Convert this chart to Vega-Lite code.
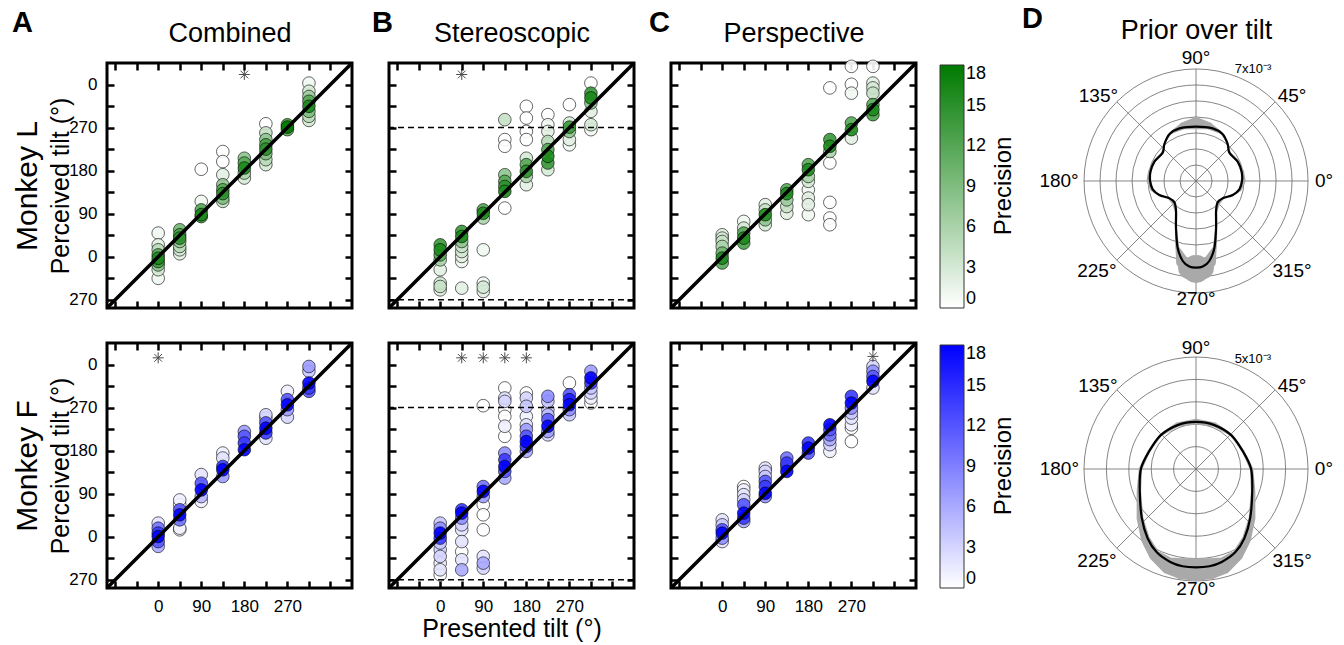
{
"$schema":"https://vega.github.io/schema/vega-lite/v6.json",
"background":"white",
"padding":{"left":10,"top":5,"right":0,"bottom":0},
"config":{
 "font":"Liberation Sans",
 "view":{"stroke":"black","strokeWidth":3},
 "axis":{"domain":false,"grid":false,"tickColor":"black","tickWidth":2.5,"tickSize":-7,"labelFontSize":17,"labelColor":"black","labelPadding":17,"labelOverlap":false,"labelFlush":false,"titleFontSize":25,"titleFontWeight":"normal","titleColor":"black","labelFont":"Liberation Sans","titleFont":"Liberation Sans"},
 "title":{"fontSize":29,"fontWeight":"bold","anchor":"start","frame":"group","font":"Liberation Sans","color":"black"},
 "legend":{"orient":"right","offset":20,"gradientLength":243,"gradientThickness":24,"labelFontSize":18,"labelColor":"black","labelOffset":5,"titleFontSize":24,"titleFontWeight":"normal","titleColor":"black","titleOrient":"right","titlePadding":6,"gradientStrokeColor":"#333","gradientStrokeWidth":1,"labelOverlap":false,"padding":2}
},
"datasets":{
 "LC":[{"x":0,"y":49.5,"p":1},{"x":0,"y":25,"p":2},{"x":0,"y":14.6,"p":5},{"x":0,"y":4,"p":12},{"x":0,"y":-3,"p":16},{"x":0,"y":-10,"p":14},{"x":0,"y":-17,"p":8},{"x":0,"y":-27,"p":3},{"x":0,"y":-45,"p":1},
  {"x":45,"y":56.5,"p":10},{"x":45,"y":46,"p":13},{"x":45,"y":39,"p":15},{"x":45,"y":32,"p":8},{"x":45,"y":21.6,"p":5},{"x":45,"y":14.6,"p":3},{"x":45,"y":6.3,"p":2},
  {"x":90,"y":183,"p":0},{"x":90,"y":115.8,"p":1},{"x":90,"y":98,"p":12},{"x":90,"y":88,"p":16},{"x":90,"y":84,"p":14},
  {"x":135,"y":220,"p":0},{"x":135,"y":199,"p":0},{"x":135,"y":171.5,"p":2},{"x":135,"y":150.6,"p":8},{"x":135,"y":140,"p":12},{"x":135,"y":132,"p":15},{"x":135,"y":122.7,"p":9},{"x":135,"y":115.8,"p":4},
  {"x":180,"y":206,"p":8},{"x":180,"y":196,"p":12},{"x":180,"y":185.5,"p":16},{"x":180,"y":175,"p":6},{"x":180,"y":164.6,"p":3},
  {"x":225,"y":278,"p":0},{"x":225,"y":259,"p":4},{"x":225,"y":245,"p":8},{"x":225,"y":234,"p":13},{"x":225,"y":225,"p":15},{"x":225,"y":215.5,"p":9},{"x":225,"y":203,"p":5},{"x":225,"y":192.5,"p":3},
  {"x":270,"y":276,"p":14},{"x":270,"y":271,"p":18},{"x":270,"y":265.7,"p":12},
  {"x":315,"y":363,"p":1},{"x":315,"y":346,"p":3},{"x":315,"y":335,"p":7},{"x":315,"y":325,"p":12},{"x":315,"y":314.5,"p":16},{"x":315,"y":304,"p":9},{"x":315,"y":293.6,"p":5},{"x":315,"y":285,"p":3}],
 "LS":[{"x":0,"y":25,"p":14},{"x":0,"y":14.6,"p":16},{"x":0,"y":4,"p":12},{"x":0,"y":-6.3,"p":6},{"x":0,"y":-27,"p":2},{"x":0,"y":-55,"p":3},{"x":0,"y":-62,"p":4},{"x":0,"y":-69,"p":2},
  {"x":45,"y":53,"p":14},{"x":45,"y":42.5,"p":16},{"x":45,"y":32,"p":8},{"x":45,"y":21.6,"p":4},{"x":45,"y":11,"p":3},{"x":45,"y":0.7,"p":2},{"x":45,"y":-9.8,"p":1},{"x":45,"y":-65.5,"p":2},
  {"x":90,"y":98,"p":12},{"x":90,"y":91,"p":16},{"x":90,"y":81,"p":6},{"x":90,"y":14.6,"p":1},{"x":90,"y":-55,"p":1},{"x":90,"y":-63.5,"p":3},{"x":90,"y":-72.5,"p":2},
  {"x":135,"y":286.6,"p":4},{"x":135,"y":245,"p":0},{"x":135,"y":231,"p":0},{"x":135,"y":171.5,"p":8},{"x":135,"y":157.6,"p":12},{"x":135,"y":147,"p":15},{"x":135,"y":136.7,"p":16},{"x":135,"y":101.8,"p":0},
  {"x":180,"y":314.5,"p":0},{"x":180,"y":290,"p":0},{"x":180,"y":262,"p":0},{"x":180,"y":245,"p":0},{"x":180,"y":206,"p":3},{"x":180,"y":192.5,"p":12},{"x":180,"y":178.5,"p":15},{"x":180,"y":168,"p":6},{"x":180,"y":150.6,"p":2},
  {"x":225,"y":297,"p":0},{"x":225,"y":276,"p":1},{"x":225,"y":262,"p":2},{"x":225,"y":241,"p":5},{"x":225,"y":224,"p":12},{"x":225,"y":210,"p":16},{"x":225,"y":196,"p":14},{"x":225,"y":182,"p":3},
  {"x":270,"y":318,"p":0},{"x":270,"y":279.6,"p":3},{"x":270,"y":271,"p":14},{"x":270,"y":262,"p":8},{"x":270,"y":245,"p":2},{"x":270,"y":234,"p":1},
  {"x":315,"y":363,"p":0},{"x":315,"y":342,"p":14},{"x":315,"y":332,"p":16},{"x":315,"y":321.5,"p":8},{"x":315,"y":304,"p":2},{"x":315,"y":276,"p":3},{"x":315,"y":265.7,"p":1}],
 "LP":[{"x":0,"y":46,"p":2},{"x":0,"y":39,"p":3},{"x":0,"y":32,"p":4},{"x":0,"y":21.6,"p":6},{"x":0,"y":7.7,"p":10},{"x":0,"y":-2.8,"p":16},{"x":0,"y":-13,"p":12},
  {"x":45,"y":74,"p":1},{"x":45,"y":60,"p":3},{"x":45,"y":49.5,"p":12},{"x":45,"y":39,"p":16},{"x":45,"y":28.6,"p":13},
  {"x":90,"y":109,"p":2},{"x":90,"y":98,"p":4},{"x":90,"y":88,"p":16},{"x":90,"y":77.4,"p":8},{"x":90,"y":67,"p":3},
  {"x":135,"y":140,"p":12},{"x":135,"y":132,"p":16},{"x":135,"y":119,"p":7},{"x":135,"y":105,"p":4},{"x":135,"y":91,"p":2},
  {"x":180,"y":192.5,"p":12},{"x":180,"y":182,"p":16},{"x":180,"y":168,"p":6},{"x":180,"y":157.6,"p":3},{"x":180,"y":140,"p":1},{"x":180,"y":122.7,"p":2},{"x":180,"y":109,"p":2},{"x":180,"y":88,"p":1},
  {"x":225,"y":353,"p":0},{"x":225,"y":245,"p":14},{"x":225,"y":231,"p":16},{"x":225,"y":220,"p":6},{"x":225,"y":196,"p":0},{"x":225,"y":113.7,"p":0},{"x":225,"y":81,"p":0},{"x":225,"y":67,"p":0},
  {"x":270,"y":398,"p":0},{"x":270,"y":360.5,"p":0},{"x":270,"y":342,"p":1},{"x":270,"y":279.6,"p":12},{"x":270,"y":265.7,"p":16},{"x":270,"y":248,"p":2},
  {"x":315,"y":398,"p":0},{"x":315,"y":363,"p":2},{"x":315,"y":353,"p":3},{"x":315,"y":342,"p":4},{"x":315,"y":318,"p":12},{"x":315,"y":307.5,"p":16},{"x":315,"y":297,"p":13}],
 "FC":[{"x":0,"y":28.6,"p":2},{"x":0,"y":18,"p":10},{"x":0,"y":7.7,"p":14},{"x":0,"y":0.7,"p":18},{"x":0,"y":-10,"p":12},{"x":0,"y":-20,"p":6},
  {"x":45,"y":77,"p":1},{"x":45,"y":67,"p":0},{"x":45,"y":56.5,"p":12},{"x":45,"y":46,"p":18},{"x":45,"y":35.5,"p":10},{"x":45,"y":18,"p":1},{"x":45,"y":14.6,"p":0},
  {"x":90,"y":130,"p":2},{"x":90,"y":112,"p":12},{"x":90,"y":98,"p":18},{"x":90,"y":84,"p":5},{"x":90,"y":74,"p":1},
  {"x":135,"y":175,"p":1},{"x":135,"y":164.6,"p":2},{"x":135,"y":147,"p":14},{"x":135,"y":140,"p":18},{"x":135,"y":126,"p":7},
  {"x":180,"y":220,"p":7},{"x":180,"y":210,"p":12},{"x":180,"y":196,"p":14},{"x":180,"y":182,"p":18},
  {"x":225,"y":255,"p":3},{"x":225,"y":248,"p":2},{"x":225,"y":238,"p":12},{"x":225,"y":227,"p":18},{"x":225,"y":217,"p":14},{"x":225,"y":206,"p":2},
  {"x":270,"y":304,"p":1},{"x":270,"y":286.6,"p":12},{"x":270,"y":276,"p":18},{"x":270,"y":265.7,"p":7},{"x":270,"y":250,"p":3},
  {"x":315,"y":356,"p":7},{"x":315,"y":346,"p":4},{"x":315,"y":321.5,"p":18},{"x":315,"y":311,"p":14},{"x":315,"y":304,"p":12}],
 "FS":[{"x":0,"y":28.6,"p":4},{"x":0,"y":18,"p":8},{"x":0,"y":7.7,"p":18},{"x":0,"y":-2.8,"p":14},{"x":0,"y":-13,"p":4},{"x":0,"y":-27,"p":3},{"x":0,"y":-41,"p":3},{"x":0,"y":-55,"p":1},{"x":0,"y":-69,"p":2},{"x":0,"y":-79.5,"p":0},
  {"x":45,"y":56.5,"p":14},{"x":45,"y":49.5,"p":18},{"x":45,"y":39,"p":8},{"x":45,"y":25,"p":3},{"x":45,"y":14.6,"p":2},{"x":45,"y":-10,"p":2},{"x":45,"y":-31,"p":0},{"x":45,"y":-48,"p":2},{"x":45,"y":-69,"p":6},
  {"x":90,"y":274,"p":0},{"x":90,"y":105,"p":10},{"x":90,"y":95,"p":18},{"x":90,"y":84,"p":7},{"x":90,"y":67,"p":0},{"x":90,"y":46,"p":0},{"x":90,"y":14.6,"p":0},{"x":90,"y":-41,"p":2},{"x":90,"y":-55,"p":6},{"x":90,"y":-65.5,"p":3},
  {"x":135,"y":311,"p":0},{"x":135,"y":290,"p":2},{"x":135,"y":283,"p":3},{"x":135,"y":265.7,"p":0},{"x":135,"y":251.7,"p":0},{"x":135,"y":231,"p":1},{"x":135,"y":210,"p":0},{"x":135,"y":175,"p":8},{"x":135,"y":161,"p":14},{"x":135,"y":147,"p":18},{"x":135,"y":136.7,"p":12},{"x":135,"y":122.7,"p":6},
  {"x":180,"y":300.6,"p":0},{"x":180,"y":290,"p":3},{"x":180,"y":272.7,"p":4},{"x":180,"y":251.7,"p":1},{"x":180,"y":234,"p":2},{"x":180,"y":224,"p":7},{"x":180,"y":210,"p":12},{"x":180,"y":199,"p":18},{"x":180,"y":189,"p":14},{"x":180,"y":178.5,"p":6},
  {"x":225,"y":293.6,"p":8},{"x":225,"y":283,"p":4},{"x":225,"y":265.7,"p":3},{"x":225,"y":255,"p":5},{"x":225,"y":245,"p":12},{"x":225,"y":231,"p":18},{"x":225,"y":220,"p":7},{"x":225,"y":213,"p":3},
  {"x":270,"y":321.5,"p":0},{"x":270,"y":297,"p":12},{"x":270,"y":286.6,"p":16},{"x":270,"y":276,"p":18},{"x":270,"y":265.7,"p":8},{"x":270,"y":255,"p":4},
  {"x":315,"y":346,"p":7},{"x":315,"y":332,"p":18},{"x":315,"y":321.5,"p":14},{"x":315,"y":311,"p":4},{"x":315,"y":300.6,"p":3},{"x":315,"y":290,"p":1},{"x":315,"y":279.6,"p":0}],
 "FP":[{"x":0,"y":35.5,"p":2},{"x":0,"y":25,"p":4},{"x":0,"y":14.6,"p":12},{"x":0,"y":7.7,"p":18},{"x":0,"y":-2.8,"p":8},{"x":0,"y":-10,"p":2},
  {"x":45,"y":105,"p":0},{"x":45,"y":98,"p":1},{"x":45,"y":88,"p":2},{"x":45,"y":77.4,"p":3},{"x":45,"y":67,"p":12},{"x":45,"y":49.5,"p":18},{"x":45,"y":39,"p":14},{"x":45,"y":32,"p":6},
  {"x":90,"y":143.7,"p":2},{"x":90,"y":136.7,"p":3},{"x":90,"y":126,"p":4},{"x":90,"y":115.8,"p":12},{"x":90,"y":105,"p":14},{"x":90,"y":91,"p":18},{"x":90,"y":84,"p":8},
  {"x":135,"y":164.6,"p":10},{"x":135,"y":154,"p":14},{"x":135,"y":147,"p":12},{"x":135,"y":136.7,"p":18},
  {"x":180,"y":196,"p":14},{"x":180,"y":185.5,"p":18},{"x":180,"y":175,"p":12},
  {"x":225,"y":234,"p":18},{"x":225,"y":224,"p":12},{"x":225,"y":213,"p":10},{"x":225,"y":203,"p":6},{"x":225,"y":192.5,"p":3},{"x":225,"y":178.5,"p":1},
  {"x":270,"y":293.6,"p":14},{"x":270,"y":279.6,"p":18},{"x":270,"y":269,"p":8},{"x":270,"y":258.7,"p":4},{"x":270,"y":248,"p":2},{"x":270,"y":234,"p":1},{"x":270,"y":227,"p":0},{"x":270,"y":199,"p":0},
  {"x":315,"y":356,"p":3},{"x":315,"y":346,"p":8},{"x":315,"y":335,"p":12},{"x":315,"y":325,"p":18},{"x":315,"y":311,"p":2}],
 "PLb":[{"i":0,"x":0,"y":3.4},{"i":1,"x":1.04,"y":3.29},{"i":2,"x":1.67,"y":2.92},{"i":3,"x":1.98,"y":2.29},{"i":4,"x":2.08,"y":1.77},{"i":5,"x":2.6,"y":1.21},{"i":6,"x":2.85,"y":0.58},{"i":7,"x":2.875,"y":0},{"i":8,"x":2.71,"y":-0.52},{"i":9,"x":2.29,"y":-0.875},{"i":10,"x":1.67,"y":-1.08},{"i":11,"x":1.35,"y":-1.35},{"i":12,"x":1.25,"y":-1.875},{"i":13,"x":1.25,"y":-2.92},{"i":14,"x":1.15,"y":-4.17},{"i":15,"x":0.83,"y":-5.0},{"i":16,"x":0.42,"y":-5.35},{"i":17,"x":0,"y":-5.42},{"i":18,"x":-0.42,"y":-5.35},{"i":19,"x":-0.83,"y":-5.0},{"i":20,"x":-1.15,"y":-4.17},{"i":21,"x":-1.25,"y":-2.92},{"i":22,"x":-1.25,"y":-1.875},{"i":23,"x":-1.35,"y":-1.35},{"i":24,"x":-1.67,"y":-1.08},{"i":25,"x":-2.29,"y":-0.875},{"i":26,"x":-2.71,"y":-0.52},{"i":27,"x":-2.875,"y":0},{"i":28,"x":-2.85,"y":0.58},{"i":29,"x":-2.6,"y":1.21},{"i":30,"x":-2.08,"y":1.77},{"i":31,"x":-1.98,"y":2.29},{"i":32,"x":-1.67,"y":2.92},{"i":33,"x":-1.04,"y":3.29}],
 "PLg":[{"i":0,"x":0,"y":3.62,"w":0.75},{"i":1,"x":0.8,"y":3.45,"w":0.45},{"i":2,"x":1.6,"y":3.0,"w":0.15},{"i":3,"x":2.0,"y":2.3,"w":0.1},{"i":4,"x":2.12,"y":1.77,"w":0.1},{"i":5,"x":2.62,"y":1.22,"w":0.15},{"i":6,"x":2.9,"y":0.58,"w":0.2},{"i":7,"x":2.95,"y":0,"w":0.3},{"i":8,"x":2.75,"y":-0.55,"w":0.2},{"i":9,"x":2.3,"y":-0.9,"w":0.1},{"i":10,"x":1.68,"y":-1.1,"w":0.1},{"i":11,"x":1.37,"y":-1.4,"w":0.25},{"i":12,"x":1.27,"y":-1.9,"w":0.12},{"i":13,"x":1.27,"y":-2.92,"w":0.12},{"i":14,"x":1.17,"y":-4.17,"w":0.25},{"i":15,"x":0.85,"y":-5.05,"w":0.8},{"i":16,"x":0.42,"y":-5.45,"w":1.4},{"i":17,"x":0,"y":-5.5,"w":1.75},{"i":18,"x":-0.42,"y":-5.45,"w":1.4},{"i":19,"x":-0.85,"y":-5.05,"w":0.8},{"i":20,"x":-1.17,"y":-4.17,"w":0.25},{"i":21,"x":-1.27,"y":-2.92,"w":0.12},{"i":22,"x":-1.27,"y":-1.9,"w":0.12},{"i":23,"x":-1.37,"y":-1.4,"w":0.25},{"i":24,"x":-1.68,"y":-1.1,"w":0.1},{"i":25,"x":-2.3,"y":-0.9,"w":0.1},{"i":26,"x":-2.75,"y":-0.55,"w":0.2},{"i":27,"x":-2.95,"y":0,"w":0.3},{"i":28,"x":-2.9,"y":0.58,"w":0.2},{"i":29,"x":-2.62,"y":1.22,"w":0.15},{"i":30,"x":-2.12,"y":1.77,"w":0.1},{"i":31,"x":-2.0,"y":2.3,"w":0.1},{"i":32,"x":-1.6,"y":3.0,"w":0.15},{"i":33,"x":-0.8,"y":3.45,"w":0.45},{"i":34,"x":0,"y":3.62,"w":0.75}],
 "PFb":[{"i":0,"x":0,"y":2.1},{"i":1,"x":0.82,"y":1.96},{"i":2,"x":1.57,"y":1.51},{"i":3,"x":2.09,"y":0.79},{"i":4,"x":2.46,"y":0},{"i":5,"x":2.51,"y":-1.0},{"i":6,"x":2.42,"y":-2.19},{"i":7,"x":2.16,"y":-3.09},{"i":8,"x":1.75,"y":-3.72},{"i":9,"x":1.15,"y":-4.15},{"i":10,"x":0.6,"y":-4.34},{"i":11,"x":0,"y":-4.39},{"i":12,"x":-0.6,"y":-4.34},{"i":13,"x":-1.15,"y":-4.15},{"i":14,"x":-1.75,"y":-3.72},{"i":15,"x":-2.16,"y":-3.09},{"i":16,"x":-2.42,"y":-2.19},{"i":17,"x":-2.51,"y":-1.0},{"i":18,"x":-2.46,"y":0},{"i":19,"x":-2.09,"y":0.79},{"i":20,"x":-1.57,"y":1.51},{"i":21,"x":-0.82,"y":1.96}],
 "PFg":[{"i":0,"x":0,"y":2.12,"w":0.25},{"i":1,"x":0.83,"y":1.98,"w":0.2},{"i":2,"x":1.58,"y":1.52,"w":0.12},{"i":3,"x":2.1,"y":0.8,"w":0.12},{"i":4,"x":2.48,"y":0,"w":0.15},{"i":5,"x":2.55,"y":-1.0,"w":0.2},{"i":6,"x":2.5,"y":-2.2,"w":0.3},{"i":7,"x":2.25,"y":-3.15,"w":0.4},{"i":8,"x":1.85,"y":-3.85,"w":0.5},{"i":9,"x":1.22,"y":-4.32,"w":0.75},{"i":10,"x":0.6,"y":-4.46,"w":0.95},{"i":11,"x":0,"y":-4.48,"w":1.0},{"i":12,"x":-0.6,"y":-4.46,"w":0.95},{"i":13,"x":-1.22,"y":-4.32,"w":0.75},{"i":14,"x":-1.85,"y":-3.85,"w":0.5},{"i":15,"x":-2.25,"y":-3.15,"w":0.4},{"i":16,"x":-2.5,"y":-2.2,"w":0.3},{"i":17,"x":-2.55,"y":-1.0,"w":0.2},{"i":18,"x":-2.48,"y":0,"w":0.15},{"i":19,"x":-2.1,"y":0.8,"w":0.12},{"i":20,"x":-1.58,"y":1.52,"w":0.12},{"i":21,"x":-0.83,"y":1.98,"w":0.2},{"i":22,"x":0,"y":2.12,"w":0.25}]
},
"columns":4,
"bounds":"flush",
"spacing":{"row":35,"column":37},
"resolve":{"scale":{"fill":"independent","size":"independent"},"legend":{"fill":"independent","size":"independent"}},
"concat":[
   {"width":245,"height":245,
    "title":{"text":"A","dx":-95,"dy":22},
    "layer":[
     {"data":{"name":"LC"},"mark":{"type":"point","shape":"circle","filled":true,"size":160,"stroke":"black","strokeWidth":0.7,"fillOpacity":0.9,"strokeOpacity":0.85},
      "encoding":{
       "x":{"field":"x","type":"quantitative","scale":{"domain":[-107,405],"nice":false,"zero":false},"axis":{"orient":"bottom","values":[-90,-45,0,45,90,135,180,225,270,315,360],"labels":false,"title":null}},
       "y":{"field":"y","type":"quantitative","scale":{"domain":[-107,405],"nice":false,"zero":false},"axis":{"orient":"left","values":[-90,-45,0,45,90,135,180,225,270,315,360],"labelExpr":"datum.value % 90 == 0 ? '' + ((datum.value + 360) % 360) : ''","title":"Perceived tilt (°)","titlePadding":-5}},
       "fill":{"field":"p","type":"quantitative","scale":{"domain":[0,18],"range":["#ffffff","#007a00"],"interpolate":"rgb"},"legend":null},
       "order":{"field":"p","type":"quantitative"}}},
     {"data":{"values":[{"x":-107,"y":-107},{"x":405,"y":405}]},"mark":{"type":"line","color":"black","strokeWidth":3.5},
      "encoding":{
       "x":{"field":"x","type":"quantitative","axis":{"orient":"top","values":[-90,-45,0,45,90,135,180,225,270,315,360],"labels":false,"title":"Combined","titleFontSize":27,"titlePadding":14}},
       "y":{"field":"y","type":"quantitative","axis":{"orient":"right","values":[-90,-45,0,45,90,135,180,225,270,315,360],"labels":false,"title":null}}}},
     {"data":{"values":[{"x":180,"y":381}]},"mark":{"type":"point","shape":"M-1,0L1,0M0,-1L0,1M-0.7,-0.7L0.7,0.7M-0.7,0.7L0.7,-0.7","size":120,"color":"black","strokeWidth":1,"filled":false},
      "encoding":{
       "x":{"field":"x","type":"quantitative","axis":null},
       "y":{"field":"y","type":"quantitative","axis":{"orient":"left","labels":false,"ticks":false,"title":"Monkey L","titleFontSize":30,"titlePadding":65}}}}
    ],
    "resolve":{"axis":{"x":"independent","y":"independent"}}},
   {"width":245,"height":245,
    "title":{"text":"B","dx":-17,"dy":22},
    "layer":[
     {"data":{"name":"LS"},"mark":{"type":"point","shape":"circle","filled":true,"size":160,"stroke":"black","strokeWidth":0.7,"fillOpacity":0.9,"strokeOpacity":0.85},
      "encoding":{
       "x":{"field":"x","type":"quantitative","scale":{"domain":[-107,405],"nice":false,"zero":false},"axis":{"orient":"bottom","values":[-90,-45,0,45,90,135,180,225,270,315,360],"labels":false,"title":null}},
       "y":{"field":"y","type":"quantitative","scale":{"domain":[-107,405],"nice":false,"zero":false},"axis":{"orient":"left","values":[-90,-45,0,45,90,135,180,225,270,315,360],"labels":false,"title":null}},
       "fill":{"field":"p","type":"quantitative","scale":{"domain":[0,18],"range":["#ffffff","#007a00"],"interpolate":"rgb"},"legend":null},
       "order":{"field":"p","type":"quantitative"}}},
     {"data":{"values":[{"x":-107,"y":-107},{"x":405,"y":405}]},"mark":{"type":"line","color":"black","strokeWidth":3.5},
      "encoding":{
       "x":{"field":"x","type":"quantitative","axis":{"orient":"top","values":[-90,-45,0,45,90,135,180,225,270,315,360],"labels":false,"title":"Stereoscopic","titleFontSize":27,"titlePadding":14}},
       "y":{"field":"y","type":"quantitative","axis":{"orient":"right","values":[-90,-45,0,45,90,135,180,225,270,315,360],"labels":false,"title":null}}}},
     {"data":{"values":[{"y":270},{"y":-90}]},"mark":{"type":"rule","color":"black","strokeWidth":1.5,"strokeDash":[6,4]},
      "encoding":{"y":{"field":"y","type":"quantitative","axis":null}}},
     {"data":{"values":[{"x":45,"y":381}]},"mark":{"type":"point","shape":"M-1,0L1,0M0,-1L0,1M-0.7,-0.7L0.7,0.7M-0.7,0.7L0.7,-0.7","size":120,"color":"black","strokeWidth":1,"filled":false},
      "encoding":{"x":{"field":"x","type":"quantitative","axis":null},"y":{"field":"y","type":"quantitative","axis":null}}}
    ],
    "resolve":{"axis":{"x":"independent","y":"independent"}}},
   {"width":245,"height":245,
    "title":{"text":"C","dx":-22,"dy":22},
    "layer":[
     {"data":{"name":"LP"},"mark":{"type":"point","shape":"circle","filled":true,"size":160,"stroke":"black","strokeWidth":0.7,"fillOpacity":0.9,"strokeOpacity":0.85},
      "encoding":{
       "x":{"field":"x","type":"quantitative","scale":{"domain":[-107,405],"nice":false,"zero":false},"axis":{"orient":"bottom","values":[-90,-45,0,45,90,135,180,225,270,315,360],"labels":false,"title":null}},
       "y":{"field":"y","type":"quantitative","scale":{"domain":[-107,405],"nice":false,"zero":false},"axis":{"orient":"left","values":[-90,-45,0,45,90,135,180,225,270,315,360],"labels":false,"title":null}},
       "fill":{"field":"p","type":"quantitative","scale":{"domain":[0,18],"range":["#ffffff","#007a00"],"interpolate":"rgb"},"legend":{"title":"Precision","values":[0,3,6,9,12,15,18],"encode":{"title":{"update":{"angle":{"value":-90},"baseline":{"value":"top"}}}}}},
       "order":{"field":"p","type":"quantitative"}}},
     {"data":{"values":[{"x":-107,"y":-107},{"x":405,"y":405}]},"mark":{"type":"line","color":"black","strokeWidth":3.5},
      "encoding":{
       "x":{"field":"x","type":"quantitative","axis":{"orient":"top","values":[-90,-45,0,45,90,135,180,225,270,315,360],"labels":false,"title":"Perspective","titleFontSize":27,"titlePadding":14}},
       "y":{"field":"y","type":"quantitative","axis":{"orient":"right","values":[-90,-45,0,45,90,135,180,225,270,315,360],"labels":false,"title":null}}}}
    ],
    "resolve":{"axis":{"x":"independent","y":"independent"}}},
  {"width":388,"height":245,"view":{"stroke":null},
   "title":{"text":"D","dx":69,"dy":22},
   "layer":[
    {"data":{"values":[{"x":-7,"y":0,"x2":7,"y2":0},{"x":0,"y":-7,"x2":0,"y2":7},{"x":-4.95,"y":-4.95,"x2":4.95,"y2":4.95},{"x":-4.95,"y":4.95,"x2":4.95,"y2":-4.95}]},
     "mark":{"type":"rule","color":"#666666","strokeWidth":0.8},
     "encoding":{
      "x":{"field":"x","type":"quantitative","scale":{"domain":[-15.19,9.06],"nice":false,"zero":false},"axis":{"orient":"top","domain":false,"ticks":false,"labels":false,"title":"Prior over tilt","titleFontSize":27,"titlePadding":19,"titleX":243}},
      "y":{"field":"y","type":"quantitative","scale":{"domain":[-7.94,7.375],"nice":false,"zero":false},"axis":null},
      "x2":{"field":"x2"},"y2":{"field":"y2"}}},
    {"data":{"values":[{"r":1,"x":0,"y":0},{"r":2,"x":0,"y":0},{"r":3,"x":0,"y":0},{"r":4,"x":0,"y":0},{"r":5,"x":0,"y":0},{"r":6,"x":0,"y":0},{"r":7,"x":0,"y":0}]},
     "mark":{"type":"point","shape":"circle","filled":false,"color":"#666666","strokeWidth":0.8,"opacity":1},
     "encoding":{
      "x":{"field":"x","type":"quantitative"},
      "y":{"field":"y","type":"quantitative","axis":null},
      "size":{"field":"r","type":"quantitative","scale":{"type":"pow","exponent":2,"domain":[0,7],"range":[0,50176]},"legend":null}}},
    {"data":{"name":"PLg"},"mark":{"type":"trail","color":"#a9a9a9"},
     "encoding":{
      "x":{"field":"x","type":"quantitative"},
      "y":{"field":"y","type":"quantitative","axis":null},
      "order":{"field":"i","type":"quantitative"},
      "size":{"field":"w","type":"quantitative","scale":{"domain":[0,1],"range":[0,16],"zero":true},"legend":null}}},
    {"data":{"name":"PLb"},"mark":{"type":"line","color":"black","strokeWidth":2.2,"interpolate":"cardinal-closed"},
     "encoding":{
      "x":{"field":"x","type":"quantitative"},
      "y":{"field":"y","type":"quantitative","axis":null},
      "order":{"field":"i","type":"quantitative"}}},
    {"data":{"values":[{"t":"0°","x":8.0,"y":0},{"t":"45°","x":6.0,"y":5.3},{"t":"90°","x":0,"y":7.69},{"t":"135°","x":-6.1,"y":5.3},{"t":"180°","x":-8.56,"y":0},{"t":"225°","x":-6.2,"y":-5.6},{"t":"270°","x":0,"y":-7.375},{"t":"315°","x":6.0,"y":-5.6}]},
     "mark":{"type":"text","fontSize":19,"color":"black"},
     "encoding":{
      "x":{"field":"x","type":"quantitative"},
      "y":{"field":"y","type":"quantitative","axis":null},
      "text":{"field":"t"}}},
    {"data":{"values":[{"t":"7x10⁻³","x":3.56,"y":7.0}]},
     "mark":{"type":"text","fontSize":13,"color":"black"},
     "encoding":{
      "x":{"field":"x","type":"quantitative"},
      "y":{"field":"y","type":"quantitative","axis":null},
      "text":{"field":"t"}}}
   ],
   "resolve":{"scale":{"size":"independent"}}},
   {"width":245,"height":245,
    "layer":[
     {"data":{"name":"FC"},"mark":{"type":"point","shape":"circle","filled":true,"size":160,"stroke":"black","strokeWidth":0.7,"fillOpacity":0.9,"strokeOpacity":0.85},
      "encoding":{
       "x":{"field":"x","type":"quantitative","scale":{"domain":[-107,405],"nice":false,"zero":false},"axis":{"orient":"bottom","values":[-90,-45,0,45,90,135,180,225,270,315,360],"labelExpr":"datum.value >= 0 && datum.value <= 270 && datum.value % 90 == 0 ? datum.label : ''","title":null}},
       "y":{"field":"y","type":"quantitative","scale":{"domain":[-107,405],"nice":false,"zero":false},"axis":{"orient":"left","values":[-90,-45,0,45,90,135,180,225,270,315,360],"labelExpr":"datum.value % 90 == 0 ? '' + ((datum.value + 360) % 360) : ''","title":"Perceived tilt (°)","titlePadding":-5}},
       "fill":{"field":"p","type":"quantitative","scale":{"domain":[0,18],"range":["#ffffff","#0000ff"],"interpolate":"rgb"},"legend":null},
       "order":{"field":"p","type":"quantitative"}}},
     {"data":{"values":[{"x":-107,"y":-107},{"x":405,"y":405}]},"mark":{"type":"line","color":"black","strokeWidth":3.5},
      "encoding":{
       "x":{"field":"x","type":"quantitative","axis":{"orient":"top","values":[-90,-45,0,45,90,135,180,225,270,315,360],"labels":false,"title":null}},
       "y":{"field":"y","type":"quantitative","axis":{"orient":"right","values":[-90,-45,0,45,90,135,180,225,270,315,360],"labels":false,"title":null}}}},
     {"data":{"values":[{"x":0,"y":374}]},"mark":{"type":"point","shape":"M-1,0L1,0M0,-1L0,1M-0.7,-0.7L0.7,0.7M-0.7,0.7L0.7,-0.7","size":120,"color":"black","strokeWidth":1,"filled":false},
      "encoding":{
       "x":{"field":"x","type":"quantitative","axis":null},
       "y":{"field":"y","type":"quantitative","axis":{"orient":"left","labels":false,"ticks":false,"title":"Monkey F","titleFontSize":30,"titlePadding":65}}}}
    ],
    "resolve":{"axis":{"x":"independent","y":"independent"}}},
   {"width":245,"height":245,
    "layer":[
     {"data":{"name":"FS"},"mark":{"type":"point","shape":"circle","filled":true,"size":160,"stroke":"black","strokeWidth":0.7,"fillOpacity":0.9,"strokeOpacity":0.85},
      "encoding":{
       "x":{"field":"x","type":"quantitative","scale":{"domain":[-107,405],"nice":false,"zero":false},"axis":{"orient":"bottom","values":[-90,-45,0,45,90,135,180,225,270,315,360],"labelExpr":"datum.value >= 0 && datum.value <= 270 && datum.value % 90 == 0 ? datum.label : ''","title":"Presented tilt (°)","titlePadding":2}},
       "y":{"field":"y","type":"quantitative","scale":{"domain":[-107,405],"nice":false,"zero":false},"axis":{"orient":"left","values":[-90,-45,0,45,90,135,180,225,270,315,360],"labels":false,"title":null}},
       "fill":{"field":"p","type":"quantitative","scale":{"domain":[0,18],"range":["#ffffff","#0000ff"],"interpolate":"rgb"},"legend":null},
       "order":{"field":"p","type":"quantitative"}}},
     {"data":{"values":[{"x":-107,"y":-107},{"x":405,"y":405}]},"mark":{"type":"line","color":"black","strokeWidth":3.5},
      "encoding":{
       "x":{"field":"x","type":"quantitative","axis":{"orient":"top","values":[-90,-45,0,45,90,135,180,225,270,315,360],"labels":false,"title":null}},
       "y":{"field":"y","type":"quantitative","axis":{"orient":"right","values":[-90,-45,0,45,90,135,180,225,270,315,360],"labels":false,"title":null}}}},
     {"data":{"values":[{"y":270},{"y":-90}]},"mark":{"type":"rule","color":"black","strokeWidth":1.5,"strokeDash":[6,4]},
      "encoding":{"y":{"field":"y","type":"quantitative","axis":null}}},
     {"data":{"values":[{"x":45,"y":374},{"x":90,"y":374},{"x":135,"y":374},{"x":180,"y":374}]},"mark":{"type":"point","shape":"M-1,0L1,0M0,-1L0,1M-0.7,-0.7L0.7,0.7M-0.7,0.7L0.7,-0.7","size":120,"color":"black","strokeWidth":1,"filled":false},
      "encoding":{"x":{"field":"x","type":"quantitative","axis":null},"y":{"field":"y","type":"quantitative","axis":null}}}
    ],
    "resolve":{"axis":{"x":"independent","y":"independent"}}},
   {"width":245,"height":245,
    "layer":[
     {"data":{"name":"FP"},"mark":{"type":"point","shape":"circle","filled":true,"size":160,"stroke":"black","strokeWidth":0.7,"fillOpacity":0.9,"strokeOpacity":0.85},
      "encoding":{
       "x":{"field":"x","type":"quantitative","scale":{"domain":[-107,405],"nice":false,"zero":false},"axis":{"orient":"bottom","values":[-90,-45,0,45,90,135,180,225,270,315,360],"labelExpr":"datum.value >= 0 && datum.value <= 270 && datum.value % 90 == 0 ? datum.label : ''","title":null}},
       "y":{"field":"y","type":"quantitative","scale":{"domain":[-107,405],"nice":false,"zero":false},"axis":{"orient":"left","values":[-90,-45,0,45,90,135,180,225,270,315,360],"labels":false,"title":null}},
       "fill":{"field":"p","type":"quantitative","scale":{"domain":[0,18],"range":["#ffffff","#0000ff"],"interpolate":"rgb"},"legend":{"title":"Precision","values":[0,3,6,9,12,15,18],"encode":{"title":{"update":{"angle":{"value":-90},"baseline":{"value":"top"}}}}}},
       "order":{"field":"p","type":"quantitative"}}},
     {"data":{"values":[{"x":-107,"y":-107},{"x":405,"y":405}]},"mark":{"type":"line","color":"black","strokeWidth":3.5},
      "encoding":{
       "x":{"field":"x","type":"quantitative","axis":{"orient":"top","values":[-90,-45,0,45,90,135,180,225,270,315,360],"labels":false,"title":null}},
       "y":{"field":"y","type":"quantitative","axis":{"orient":"right","values":[-90,-45,0,45,90,135,180,225,270,315,360],"labels":false,"title":null}}}},
     {"data":{"values":[{"x":315,"y":377}]},"mark":{"type":"point","shape":"M-1,0L1,0M0,-1L0,1M-0.7,-0.7L0.7,0.7M-0.7,0.7L0.7,-0.7","size":120,"color":"black","strokeWidth":1,"filled":false},
      "encoding":{"x":{"field":"x","type":"quantitative","axis":null},"y":{"field":"y","type":"quantitative","axis":null}}}
    ],
    "resolve":{"axis":{"x":"independent","y":"independent"}}},
  {"width":388,"height":245,"view":{"stroke":null},
   "layer":[
    {"data":{"values":[{"x":-5,"y":0,"x2":5,"y2":0},{"x":0,"y":-5,"x2":0,"y2":5},{"x":-3.536,"y":-3.536,"x2":3.536,"y2":3.536},{"x":-3.536,"y":3.536,"x2":3.536,"y2":-3.536}]},
     "mark":{"type":"rule","color":"#666666","strokeWidth":0.8},
     "encoding":{
      "x":{"field":"x","type":"quantitative","scale":{"domain":[-10.848,6.473],"nice":false,"zero":false},"axis":null},
      "y":{"field":"y","type":"quantitative","scale":{"domain":[-5.3125,5.625],"nice":false,"zero":false},"axis":null},
      "x2":{"field":"x2"},"y2":{"field":"y2"}}},
    {"data":{"values":[{"r":1,"x":0,"y":0},{"r":2,"x":0,"y":0},{"r":3,"x":0,"y":0},{"r":4,"x":0,"y":0},{"r":5,"x":0,"y":0}]},
     "mark":{"type":"point","shape":"circle","filled":false,"color":"#666666","strokeWidth":0.8,"opacity":1},
     "encoding":{
      "x":{"field":"x","type":"quantitative","axis":null},
      "y":{"field":"y","type":"quantitative","axis":null},
      "size":{"field":"r","type":"quantitative","scale":{"type":"pow","exponent":2,"domain":[0,5],"range":[0,50176]},"legend":null}}},
    {"data":{"name":"PFg"},"mark":{"type":"trail","color":"#a9a9a9"},
     "encoding":{
      "x":{"field":"x","type":"quantitative","axis":null},
      "y":{"field":"y","type":"quantitative","axis":null},
      "order":{"field":"i","type":"quantitative"},
      "size":{"field":"w","type":"quantitative","scale":{"domain":[0,1],"range":[0,22.4],"zero":true},"legend":null}}},
    {"data":{"name":"PFb"},"mark":{"type":"line","color":"black","strokeWidth":2.2,"interpolate":"cardinal-closed"},
     "encoding":{
      "x":{"field":"x","type":"quantitative","axis":null},
      "y":{"field":"y","type":"quantitative","axis":null},
      "order":{"field":"i","type":"quantitative"}}},
    {"data":{"values":[{"t":"0°","x":5.71,"y":0},{"t":"45°","x":4.29,"y":3.7},{"t":"90°","x":0,"y":5.4},{"t":"135°","x":-4.38,"y":3.7},{"t":"180°","x":-6.1,"y":0},{"t":"225°","x":-4.42,"y":-4.1},{"t":"270°","x":0,"y":-5.36},{"t":"315°","x":4.29,"y":-4.1}]},
     "mark":{"type":"text","fontSize":19,"color":"black"},
     "encoding":{
      "x":{"field":"x","type":"quantitative","axis":null},
      "y":{"field":"y","type":"quantitative","axis":null},
      "text":{"field":"t"}}},
    {"data":{"values":[{"t":"5x10⁻³","x":2.54,"y":4.9}]},
     "mark":{"type":"text","fontSize":13,"color":"black"},
     "encoding":{
      "x":{"field":"x","type":"quantitative","axis":null},
      "y":{"field":"y","type":"quantitative","axis":null},
      "text":{"field":"t"}}}
   ],
   "resolve":{"scale":{"size":"independent"}}}
]
}
